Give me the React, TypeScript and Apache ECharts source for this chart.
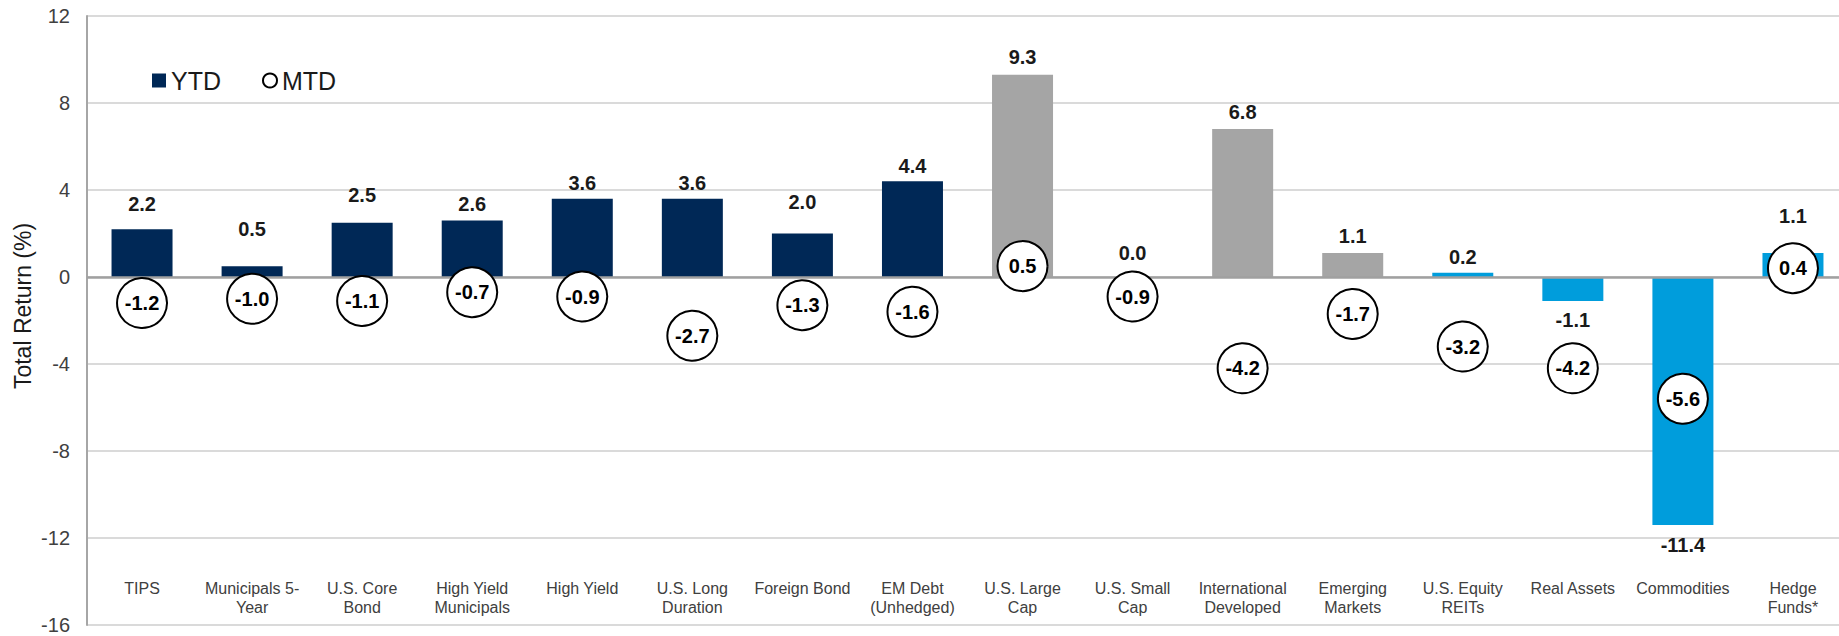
import React, { useEffect, useRef } from "react";
import * as echarts from "echarts";

const categories = [
  "TIPS",
  "Municipals 5-\nYear",
  "U.S. Core\nBond",
  "High Yield\nMunicipals",
  "High Yield",
  "U.S. Long\nDuration",
  "Foreign Bond",
  "EM Debt\n(Unhedged)",
  "U.S. Large\nCap",
  "U.S. Small\nCap",
  "International\nDeveloped",
  "Emerging\nMarkets",
  "U.S. Equity\nREITs",
  "Real Assets",
  "Commodities",
  "Hedge\nFunds*",
];

const ytd = [2.2, 0.5, 2.5, 2.6, 3.6, 3.6, 2.0, 4.4, 9.3, 0.0, 6.8, 1.1, 0.2, -1.1, -11.4, 1.1];
const mtd = [-1.2, -1.0, -1.1, -0.7, -0.9, -2.7, -1.3, -1.6, 0.5, -0.9, -4.2, -1.7, -3.2, -4.2, -5.6, 0.4];

const assetGroup = [
  "fixed", "fixed", "fixed", "fixed", "fixed", "fixed", "fixed", "fixed",
  "equity", "equity", "equity", "equity",
  "real", "real", "real", "real",
];

const yMin = -16;
const yMax = 12;
const yInterval = 4;

// styling
const groupColor: Record<string, string> = {
  fixed: "#002856",
  equity: "#A5A5A5",
  real: "#009DDC",
};
const labelGap = [15, 27, 18, 6, 6, 6, 22, 5, 8, 14, 7, 7, 6, 9, 10, 27];
const FONT = "'Liberation Sans', Arial, Helvetica, sans-serif";

export default function App() {
  const ref = useRef<HTMLDivElement>(null);

  useEffect(() => {
    document.body.style.margin = "0";
    document.body.style.overflow = "hidden";
    document.documentElement.style.overflow = "hidden";
    if (!ref.current) return;
    const chart = echarts.init(ref.current, undefined, { renderer: "svg" });

    const option: any = {
      animation: false,
      backgroundColor: "#ffffff",
      textStyle: { fontFamily: FONT },
      grid: { left: 87, top: 16, right: 0, bottom: 11, containLabel: false },
      legend: {
        left: 147,
        top: 63,
        itemWidth: 14,
        itemHeight: 14,
        itemGap: 41,
        textStyle: { fontSize: 25, color: "#1a1a1a", fontFamily: FONT },
        data: [
          { name: "YTD", icon: "rect", itemStyle: { color: groupColor.fixed } },
          { name: "MTD", icon: "circle" },
        ],
      },
      graphic: [
        {
          type: "text",
          x: 23,
          y: 306,
          rotation: Math.PI / 2,
          style: {
            text: "Total Return (%)",
            fontSize: 23,
            fontFamily: FONT,
            fill: "#1a1a1a",
            textAlign: "center",
            textVerticalAlign: "middle",
          },
        },
      ],
      xAxis: {
        type: "category",
        data: categories,
        axisLine: { show: false, onZero: false },
        axisTick: { show: false },
        splitLine: { show: false },
        axisLabel: {
          interval: 0,
          margin: -46,
          verticalAlign: "top",
          fontSize: 16,
          lineHeight: 19,
          color: "#404040",
          fontFamily: FONT,
        },
      },
      yAxis: {
        type: "value",
        min: yMin,
        max: yMax,
        interval: yInterval,
        axisLine: { show: true, lineStyle: { color: "#A6A6A6", width: 2 } },
        axisTick: { show: false },
        axisLabel: { fontSize: 20, color: "#404040", margin: 17, fontFamily: FONT },
        splitLine: { show: true, lineStyle: { color: "#DADADA", width: 2 } },
      },
      series: [
        {
          name: "YTD",
          type: "bar",
          barWidth: 61,
          itemStyle: { color: groupColor.fixed },
          data: ytd.map((v, i) => ({
            value: v,
            itemStyle: { color: groupColor[assetGroup[i]] },
            label: { position: v >= 0 ? "top" : "bottom", distance: labelGap[i] },
          })),
          label: {
            show: true,
            formatter: (p: any) => Number(p.value).toFixed(1),
            fontSize: 20,
            fontWeight: "bold",
            color: "#1a1a1a",
            fontFamily: FONT,
          },
          markLine: {
            silent: true,
            symbol: ["none", "none"],
            label: { show: false },
            lineStyle: { color: "#A0A0A0", width: 2.5, type: "solid" },
            data: [{ yAxis: 0 }],
          },
          z: 2,
        },
        {
          name: "MTD",
          type: "scatter",
          symbol: "circle",
          symbolSize: 50,
          itemStyle: { color: "#ffffff", borderColor: "#000000", borderWidth: 2, opacity: 1 },
          data: mtd,
          label: {
            show: true,
            position: "inside",
            formatter: (p: any) => Number(p.value).toFixed(1),
            fontSize: 20,
            fontWeight: "bold",
            color: "#000000",
            fontFamily: FONT,
          },
          z: 5,
        },
      ],
    };

    chart.setOption(option);
    return () => chart.dispose();
  }, []);

  return <div ref={ref} style={{ width: 1848, height: 636 }} />;
}
